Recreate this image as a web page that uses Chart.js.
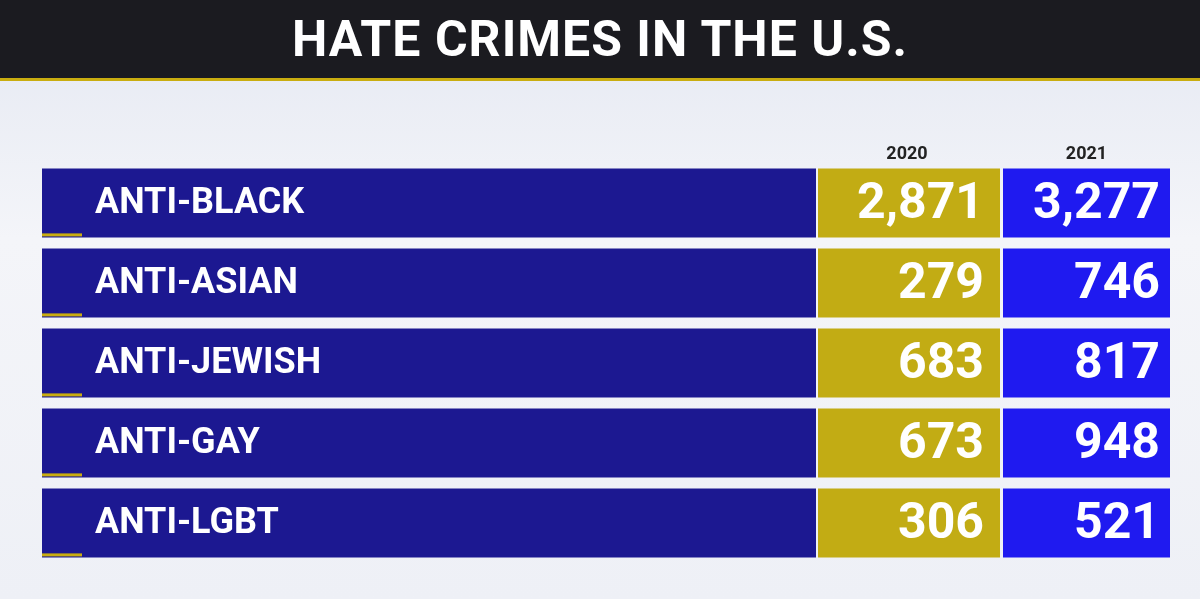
<!DOCTYPE html>
<html><head><meta charset="utf-8">
<script src="https://cdn.jsdelivr.net/npm/chart.js@4"></script>
<style>
html,body{margin:0;padding:0;width:1200px;height:599px;overflow:hidden;background:linear-gradient(180deg,#e4e8f2 0%,#f4f5f9 40%,#eef0f6 100%);}
#hdr{position:absolute;left:0;top:0;width:1200px;height:78px;background:#1b1b20;border-bottom:3px solid #c9ad10;color:#fff;font:bold 50px "Liberation Sans Narrow","Roboto",sans-serif;text-align:center;line-height:78px;letter-spacing:1px;}
#wrap{position:absolute;left:0;top:0;width:1200px;height:599px;}
</style></head><body>
<div id="hdr">HATE CRIMES IN THE U.S.</div>
<div id="wrap"><canvas id="c"></canvas></div>
<script>
const categories=["ANTI-BLACK","ANTI-ASIAN","ANTI-JEWISH","ANTI-GAY","ANTI-LGBT"];
const years=["2020","2021"];
const values2020=[2871,279,683,673,306];
const values2021=[3277,746,817,948,521];
const fmt=v=>v.toLocaleString('en-US');
const span=(a,b)=>categories.map(()=>[a,b]);
const F='"Liberation Sans Narrow","Roboto",sans-serif';
const textPlugin={id:'txt',afterDatasetsDraw(ch){
  const c=ch.ctx;c.save();c.fillStyle='#fff';c.textBaseline='middle';
  const m0=ch.getDatasetMeta(0).data,m1=ch.getDatasetMeta(1).data,m2=ch.getDatasetMeta(2).data;
  m0.forEach((b,i)=>{
    c.font='bold 36px '+F;c.textAlign='left';c.fillText(categories[i],b.base+53,b.y+1);
    c.fillStyle='#c9ad10';c.fillRect(b.base,b.y+b.height/2-4,40,3);c.fillStyle='#fff';
    c.font='bold 50px '+F;c.textAlign='right';
    c.fillText(fmt(values2020[i]),m1[i].x-16,b.y+2);
    c.fillText(fmt(values2021[i]),m2[i].x-10,b.y+2);
  });
  c.fillStyle='#222';c.font='bold 18px '+F;c.textAlign='center';
  const b=m1[0],d=m2[0];
  c.fillText(years[0],(b.x+b.base)/2-2,m0[0].y-m0[0].height/2-14);
  c.fillText(years[1],(d.x+d.base)/2,m0[0].y-m0[0].height/2-14);
  c.restore();}};
new Chart(document.getElementById('c'),{type:'bar',
 data:{labels:categories,datasets:[
  {data:span(42,816),backgroundColor:'#1c1891',grouped:false,barPercentage:0.86,categoryPercentage:1},
  {data:span(818,1000),backgroundColor:'#c2ac14',grouped:false,barPercentage:0.86,categoryPercentage:1},
  {data:span(1003,1170),backgroundColor:'#1f1af0',grouped:false,barPercentage:0.86,categoryPercentage:1}]},
 options:{indexAxis:'y',responsive:true,maintainAspectRatio:false,animation:false,
  layout:{padding:{top:163,bottom:36,left:0,right:0}},
  plugins:{legend:{display:false},tooltip:{enabled:false}},
  scales:{x:{display:false,min:0,max:1200},y:{display:false}}},
 plugins:[textPlugin]});
</script></body></html>
